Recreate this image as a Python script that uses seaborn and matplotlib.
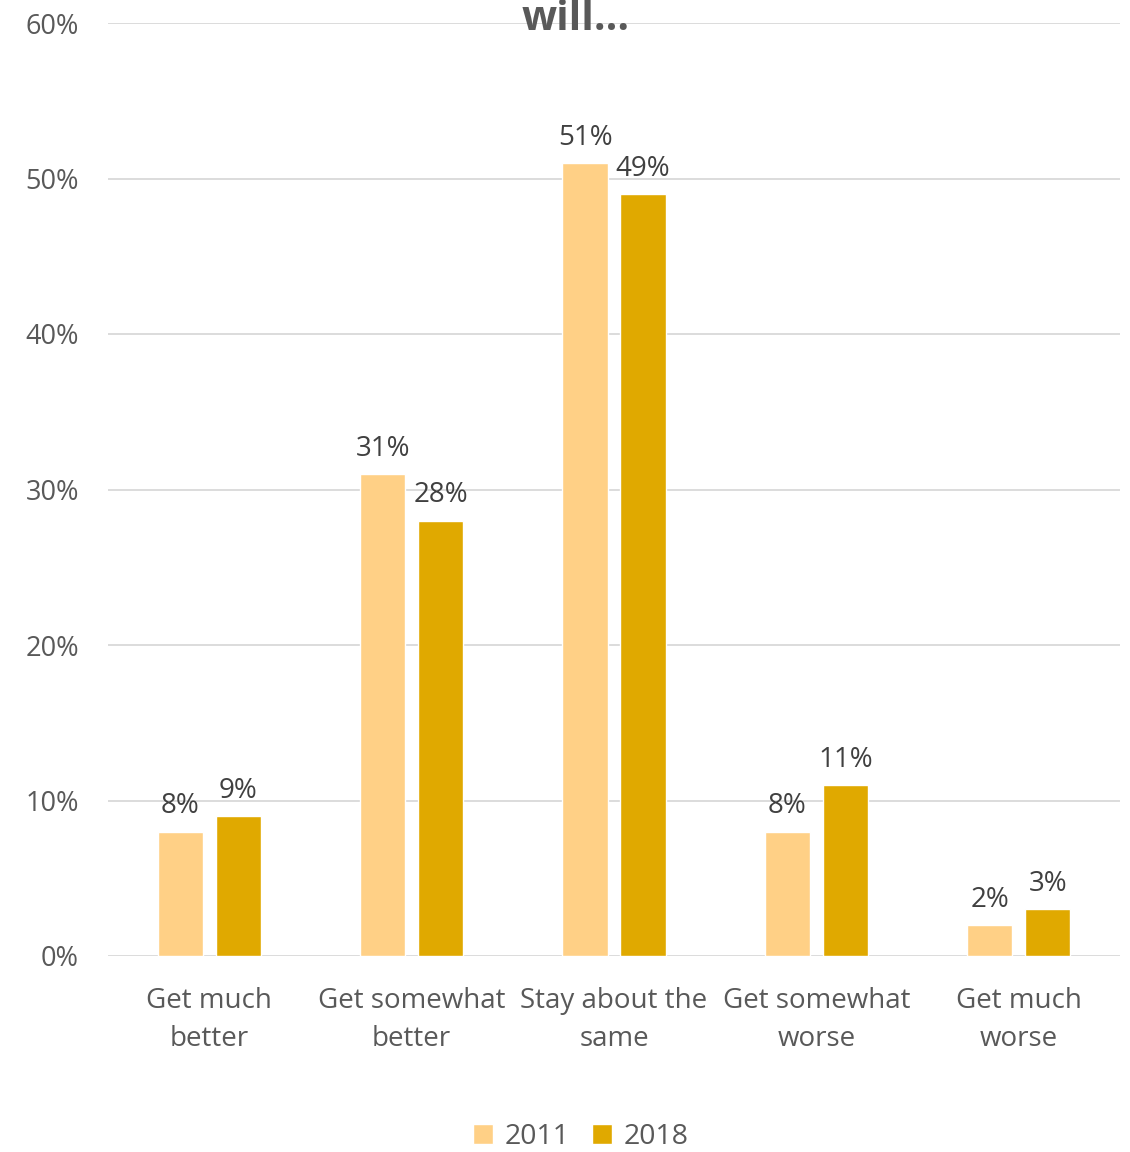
import matplotlib
matplotlib.use("Agg")
import matplotlib.pyplot as plt
import seaborn as sns
import pandas as pd
from matplotlib.ticker import FuncFormatter
from matplotlib.patches import Patch

categories = ["Get much\nbetter", "Get somewhat\nbetter", "Stay about the\nsame", "Get somewhat\nworse", "Get much\nworse"]
years = ["2011", "2018"]
values_2011 = [8, 31, 51, 8, 2]
values_2018 = [9, 28, 49, 11, 3]
colors = ["#FFD086", "#E0A900"]
title_tail = "will..."

sns.set_theme(style="white")
plt.rcParams['font.family'] = ['Open Sans', 'DejaVu Sans']
TXT = "#595959"

df = pd.DataFrame({
    "category": categories * 2,
    "year": [years[0]] * 5 + [years[1]] * 5,
    "value": values_2011 + values_2018,
})

fig = plt.figure(figsize=(11.3, 11.52), dpi=100)
ax = fig.add_axes([108/1130, 1 - 956/1152, (1120-108)/1130, (956-23)/1152])
sns.barplot(data=df, x="category", y="value", hue="year", palette=colors,
            width=0.573, gap=0.22, ax=ax, legend=False, saturation=1)

ax.set_ylim(0, 60)
ax.set_xlim(-0.5, 4.5)
ax.set_yticks(range(0, 61, 10))
ax.yaxis.set_major_formatter(FuncFormatter(lambda v, p: f"{int(v)}%"))
ax.grid(axis="y", color="#D9D9D9", linewidth=1.3)
ax.set_axisbelow(True)
for s in ax.spines.values():
    s.set_visible(False)
ax.set_xlabel("")
ax.set_ylabel("")
ax.tick_params(axis="y", labelsize=19.5, colors=TXT, pad=21, length=0)
ax.tick_params(axis="x", labelsize=20, colors=TXT, pad=22, length=0)
for lbl in ax.get_xticklabels():
    lbl.set_linespacing(1.5)

for cont in ax.containers:
    ax.bar_label(cont, labels=[f"{int(v)}%" for v in cont.datavalues],
                 fontsize=20, color="#404040", padding=8)

fig.text(0.509, 1 - 30/1152, title_tail, ha="center", va="baseline",
         fontsize=29.5, fontweight="bold", color=TXT)

handles = [Patch(facecolor=c, label=y) for c, y in zip(colors, years)]
fig.legend(handles=handles, loc="center", bbox_to_anchor=(0.514, 1 - 1137/1152),
           ncol=2, frameon=False, fontsize=20.5, handlelength=0.7, handleheight=0.7,
           handletextpad=0.4, columnspacing=0.8, labelcolor=TXT)

fig.savefig("out.png", dpi=100)
